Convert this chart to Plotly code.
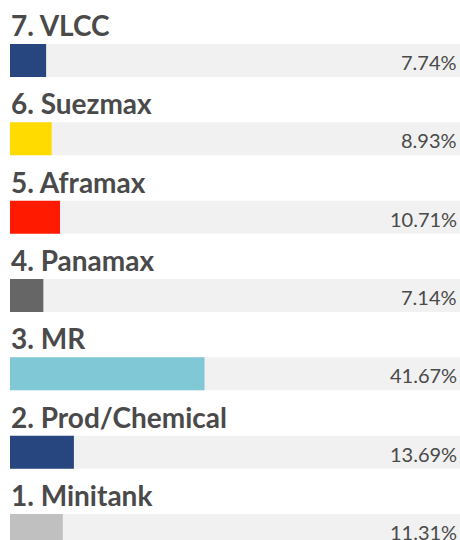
import plotly.graph_objects as go

categories = ["1. Minitank", "2. Prod/Chemical", "3. MR", "4. Panamax", "5. Aframax", "6. Suezmax", "7. VLCC"]
values = [11.31, 13.69, 41.67, 7.14, 10.71, 8.93, 7.74]
colors = ["#c0c0c0", "#27467f", "#80c8d5", "#666666", "#ff1a00", "#ffdb00", "#27467f"]
value_labels = ["11.31%", "13.69%", "41.67%", "7.14%", "10.71%", "8.93%", "7.74%"]

ypos = list(range(len(categories)))
bw = 0.421

fig = go.Figure()
fig.add_trace(go.Bar(x=[100] * len(categories), y=ypos, orientation="h", width=bw,
                     marker=dict(color="#f1f1f1", line=dict(width=0)), hoverinfo="skip"))
fig.add_trace(go.Bar(x=values, y=ypos, orientation="h", width=bw,
                     marker=dict(color=colors, line=dict(width=0)), hoverinfo="skip"))

annotations = []
for i, (c, v) in enumerate(zip(categories, value_labels)):
    annotations.append(dict(x=0, xref="paper", y=i + 0.453, yref="y", text=c, showarrow=False,
                            xanchor="left", yanchor="middle", xshift=-1,
                            font=dict(family="Lato", size=28, color="#4a4a4a", weight="bold")))
    annotations.append(dict(x=1, xref="paper", y=i - 0.02, yref="y", text=v, showarrow=False,
                            xanchor="right", yanchor="middle", xshift=-1,
                            font=dict(family="Lato", size=20, color="#4a4a4a")))

fig.update_layout(
    width=460, height=540,
    margin=dict(l=10, r=0, t=0, b=0),
    paper_bgcolor="white", plot_bgcolor="white",
    barmode="overlay", showlegend=False,
    xaxis=dict(range=[0, 96.4], visible=False, fixedrange=True),
    yaxis=dict(range=[-0.121, 6.772], visible=False, fixedrange=True),
    annotations=annotations,
)

fig.write_html("out.html", config={"displayModeBar": False},
               post_script="document.body.style.margin='0';document.body.style.overflow='hidden';")
